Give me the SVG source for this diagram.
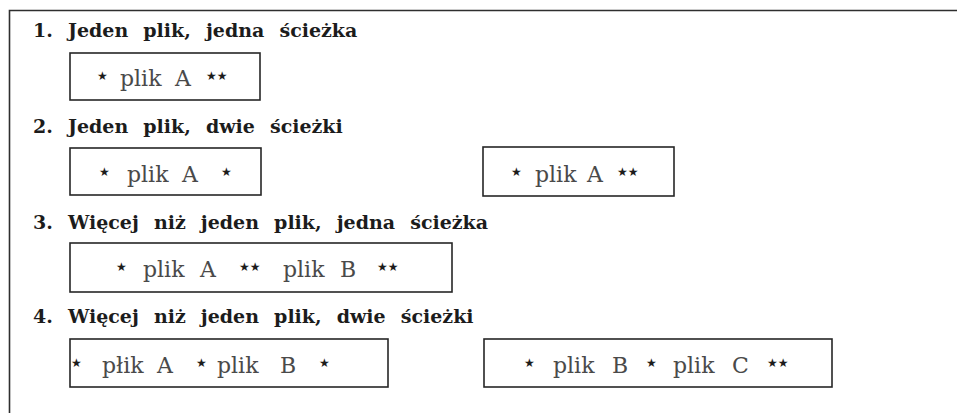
<svg xmlns="http://www.w3.org/2000/svg" width="957" height="413" viewBox="0 0 957 413">
  <style>
    .frame { fill: none; stroke: #2e2e2e; stroke-width: 1.6; }
    .box { fill: #ffffff; stroke: #262626; stroke-width: 1.6; }
    .head { font-family: "DejaVu Serif", "Liberation Serif", serif; font-weight: bold; font-size: 19px; fill: #1c1c1c; word-spacing: 8.5px; }
    .lbl { font-family: "DejaVu Serif", "Liberation Serif", serif; font-size: 22px; fill: #4a4a4a; }
    .st { font-family: "DejaVu Sans", sans-serif; font-size: 12px; fill: #1c1c1c; }
  </style>
  <rect width="957" height="413" fill="#ffffff"/>

  <!-- open frame: top rule and left rule -->
  <path class="frame" d="M9.5 413 V10.5 H957"/>

  <!-- section headings -->
  <g id="headings">
    <text class="head" x="33" y="37">1. Jeden plik, jedna ścieżka</text>
    <text class="head" x="33" y="133">2. Jeden plik, dwie ścieżki</text>
    <text class="head" x="33" y="229">3. Więcej niż jeden plik, jedna ścieżka</text>
    <text class="head" x="33" y="323">4. Więcej niż jeden plik, dwie ścieżki</text>
  </g>

  <!-- 1: one file, one track -->
  <g id="track-1">
    <rect class="box" x="70" y="53" width="190" height="47"/>
    <text class="st"><tspan x="97" y="80">★</tspan><tspan x="206" y="80">★★</tspan></text>
    <text class="lbl"><tspan x="120" y="86">plik</tspan><tspan x="175" y="86">A</tspan></text>
  </g>

  <!-- 2: one file, two tracks -->
  <g id="track-2a">
    <rect class="box" x="70" y="148" width="191" height="47"/>
    <text class="st"><tspan x="99" y="176">★</tspan><tspan x="221" y="176">★</tspan></text>
    <text class="lbl"><tspan x="127" y="182">plik</tspan><tspan x="182" y="182">A</tspan></text>
  </g>
  <g id="track-2b">
    <rect class="box" x="483" y="147" width="191" height="49"/>
    <text class="st"><tspan x="511" y="176">★</tspan><tspan x="617" y="176">★★</tspan></text>
    <text class="lbl"><tspan x="535" y="182">plik</tspan><tspan x="587" y="182">A</tspan></text>
  </g>

  <!-- 3: several files, one track -->
  <g id="track-3">
    <rect class="box" x="70" y="243" width="382" height="49"/>
    <text class="st"><tspan x="116" y="271">★</tspan><tspan x="239" y="271">★★</tspan><tspan x="377" y="271">★★</tspan></text>
    <text class="lbl"><tspan x="143" y="277">plik</tspan><tspan x="200" y="277">A</tspan><tspan x="283" y="277">plik</tspan><tspan x="340" y="277">B</tspan></text>
  </g>

  <!-- 4: several files, two tracks -->
  <g id="track-4a">
    <rect class="box" x="70" y="339" width="318" height="48"/>
    <text class="st"><tspan x="71" y="367">★</tspan><tspan x="196" y="367">★</tspan><tspan x="319" y="367">★</tspan></text>
    <text class="lbl"><tspan x="102" y="373">płik</tspan><tspan x="157" y="373">A</tspan><tspan x="217" y="373">plik</tspan><tspan x="280" y="373">B</tspan></text>
  </g>
  <g id="track-4b">
    <rect class="box" x="484" y="339" width="348" height="48"/>
    <text class="st"><tspan x="524" y="367">★</tspan><tspan x="646" y="367">★</tspan><tspan x="767" y="367">★★</tspan></text>
    <text class="lbl"><tspan x="553" y="373">plik</tspan><tspan x="612" y="373">B</tspan><tspan x="673" y="373">plik</tspan><tspan x="732" y="373">C</tspan></text>
  </g>
</svg>
